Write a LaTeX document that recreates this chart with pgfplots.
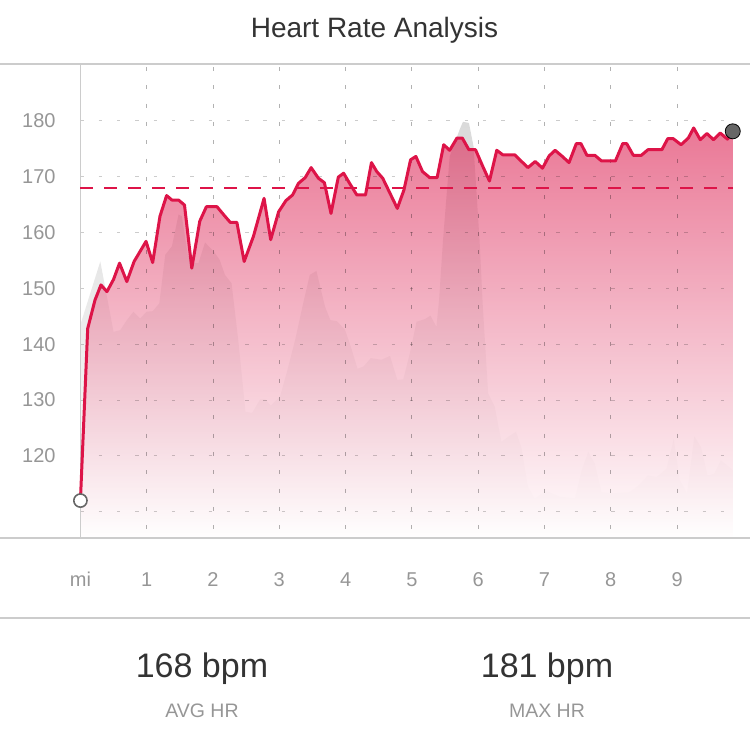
\documentclass[border=0pt]{standalone}
\usepackage{fontspec}
\setmainfont{Liberation Sans}
\usepackage{pgfplots}
\pgfplotsset{compat=1.18}
\usepackage{pgfplotstable}
\definecolor{hr}{RGB}{221,20,72}
\definecolor{hrfill}{RGB}{220,30,80}
\definecolor{txt}{RGB}{51,51,51}
\definecolor{tickc}{RGB}{150,150,150}
\definecolor{rulec}{RGB}{204,204,204}
\definecolor{elev}{RGB}{218,218,218}
\definecolor{dotc}{RGB}{102,102,102}

\pgfplotstableread{
x y
0.00 112
0.11 142.8
0.22 147.9
0.31 150.6
0.40 149.4
0.50 151.6
0.59 154.5
0.70 151.2
0.81 154.8
0.99 158.4
1.09 154.6
1.20 162.9
1.30 166.6
1.38 165.8
1.48 165.8
1.57 164.9
1.68 153.6
1.80 162.0
1.90 164.6
2.06 164.6
2.18 162.9
2.26 161.8
2.36 161.8
2.47 154.8
2.61 159.3
2.77 166.1
2.87 158.7
2.99 163.7
3.10 165.7
3.20 166.7
3.29 168.8
3.39 169.8
3.48 171.6
3.59 169.7
3.68 168.9
3.78 163.4
3.89 169.9
3.97 170.6
4.06 168.8
4.17 166.7
4.30 166.7
4.39 172.5
4.47 170.9
4.56 169.7
4.67 167.0
4.78 164.3
4.88 167.6
4.98 173.0
5.06 173.6
5.16 170.9
5.27 169.8
5.38 169.8
5.48 175.7
5.57 174.7
5.68 176.9
5.76 176.9
5.86 174.8
5.96 174.8
6.07 171.8
6.17 169.2
6.28 174.7
6.37 173.9
6.55 173.9
6.75 171.6
6.86 172.7
6.97 171.5
7.07 173.7
7.16 174.7
7.27 173.6
7.37 172.5
7.48 175.9
7.55 175.9
7.64 173.8
7.76 173.8
7.86 172.8
8.07 172.8
8.18 175.9
8.24 175.9
8.34 173.8
8.46 173.8
8.56 174.8
8.77 174.8
8.86 176.8
8.94 176.8
9.06 175.7
9.17 176.9
9.25 178.7
9.35 176.6
9.45 177.7
9.55 176.6
9.65 177.8
9.76 176.7
9.84 178.1
}\hrdata

\pgfplotstableread{
x y
0.00 143.5
0.30 154.8
0.50 142.2
0.60 142.5
0.70 144.3
0.80 145.8
0.90 144.6
1.00 145.8
1.09 145.9
1.19 147.3
1.28 156.0
1.38 157.5
1.48 163.2
1.53 162.9
1.62 156.0
1.70 154.5
1.78 154.5
1.88 158.2
2.01 156.6
2.10 155.1
2.18 152.4
2.28 150.9
2.38 140.8
2.49 127.9
2.59 127.7
2.71 130.1
2.79 130.1
2.87 129.0
3.01 130.6
3.11 134.8
3.24 140.8
3.36 147.3
3.46 152.4
3.56 153.1
3.69 146.7
3.77 144.3
3.87 144.1
3.99 142.6
4.08 139.5
4.18 135.6
4.27 136.0
4.38 137.5
4.54 137.2
4.67 137.9
4.78 133.6
4.87 133.7
4.97 138.4
5.07 144.0
5.20 144.5
5.28 145.1
5.37 143.1
5.41 147.9
5.47 158.7
5.57 173.6
5.72 178.4
5.77 179.8
5.86 179.6
5.93 175.4
5.97 168.0
6.02 158.7
6.07 146.7
6.15 131.2
6.25 128.8
6.35 122.5
6.45 123.4
6.57 124.3
6.65 121.6
6.75 114.5
6.85 112.4
7.03 113.7
7.23 112.7
7.46 112.4
7.56 117.4
7.66 120.7
7.76 118.6
7.86 113.5
8.03 113.3
8.28 113.5
8.41 114.6
8.56 116.5
8.69 116.2
8.84 117.7
8.95 123.0
9.04 115.7
9.15 113.3
9.26 123.5
9.36 121.6
9.46 116.5
9.56 116.8
9.66 119.2
9.84 117.5
}\elevdata

\begin{document}
\begin{tikzpicture}
\useasboundingbox (0,-102.5pt) rectangle (375pt,269pt);
\begin{axis}[
  at={(0,0)}, anchor=south west,
  scale only axis, width=375pt, height=237pt,
  xmin=-1.213, xmax=10.10, ymin=105.3, ymax=190.15,
  axis line style={draw=none},
  major tick length=0pt,
  xtick={0,1,2,3,4,5,6,7,8,9},
  xticklabels={mi,1,2,3,4,5,6,7,8,9},
  ytick={120,130,140,150,160,170,180},
  tick label style={font=\fontsize{10}{12}\selectfont, text=tickc},
  xticklabel style={anchor=base, inner sep=0pt, yshift=-24.5pt},
  yticklabel style={anchor=east, inner sep=0pt, xshift=28pt},
  /pgf/number format/assume math mode=true,
  clip=true,
]
\addplot[draw=none, top color=elev, bottom color=white, forget plot]
  table {\elevdata} |- (0,105.3) -- cycle;
\addplot[draw=none, top color=hrfill, bottom color=white, fill opacity=0.6, forget plot]
  table {\hrdata} |- (0,105.3) -- cycle;
\pgfplotsinvokeforeach{110,120,130,140,150,160,170,180}{
  \draw[black, opacity=0.2, line width=0.5pt, dash pattern=on 1.7pt off 7.45pt] (0,#1) -- (9.84,#1);
}
\pgfplotsinvokeforeach{1,2,3,4,5,6,7,8,9}{
  \draw[black, opacity=0.3, line width=0.5pt, dash pattern=on 2pt off 7.165pt, dash phase=7.665pt] (#1,190.15) -- (#1,105.3);
}
\draw[rulec, line width=0.6pt] (0,105.3) -- (0,190.15);
\addplot[hr, line width=1pt, dash pattern=on 6.5pt off 5.5pt, forget plot] coordinates {(0,168) (9.84,168)};
\addplot[hr, line width=1.5pt, line join=round, forget plot] table {\hrdata};
\addplot[only marks, mark=*, mark size=3.3pt, mark options={fill=white, draw=dotc, line width=0.8pt}, forget plot] coordinates {(0,112)};
\addplot[only marks, mark=*, mark size=3.75pt, mark options={fill=dotc, draw=none}, forget plot] coordinates {(9.84,178.1)};
\end{axis}
\draw[rulec, line width=0.6pt] (0,237pt) -- (375pt,237pt);
\draw[rulec, line width=0.6pt] (0,0) -- (375pt,0);
\draw[rulec, line width=0.6pt] (0,-40pt) -- (375pt,-40pt);
\node[anchor=base, inner sep=0pt, text=txt, font=\fontsize{14}{17}\selectfont] at (187.25pt,250pt) {Heart Rate Analysis};
\node[anchor=base, inner sep=0pt, text=txt, font=\fontsize{17}{20}\selectfont] at (101pt,-70pt) {168 bpm};
\node[anchor=base, inner sep=0pt, text=txt, font=\fontsize{17}{20}\selectfont] at (273.5pt,-70pt) {181 bpm};
\node[anchor=base, inner sep=0pt, text=tickc, font=\fontsize{9.75}{12}\selectfont] at (101pt,-90pt) {AVG HR};
\node[anchor=base, inner sep=0pt, text=tickc, font=\fontsize{9.75}{12}\selectfont] at (273.5pt,-90pt) {MAX HR};
\end{tikzpicture}
\end{document}
